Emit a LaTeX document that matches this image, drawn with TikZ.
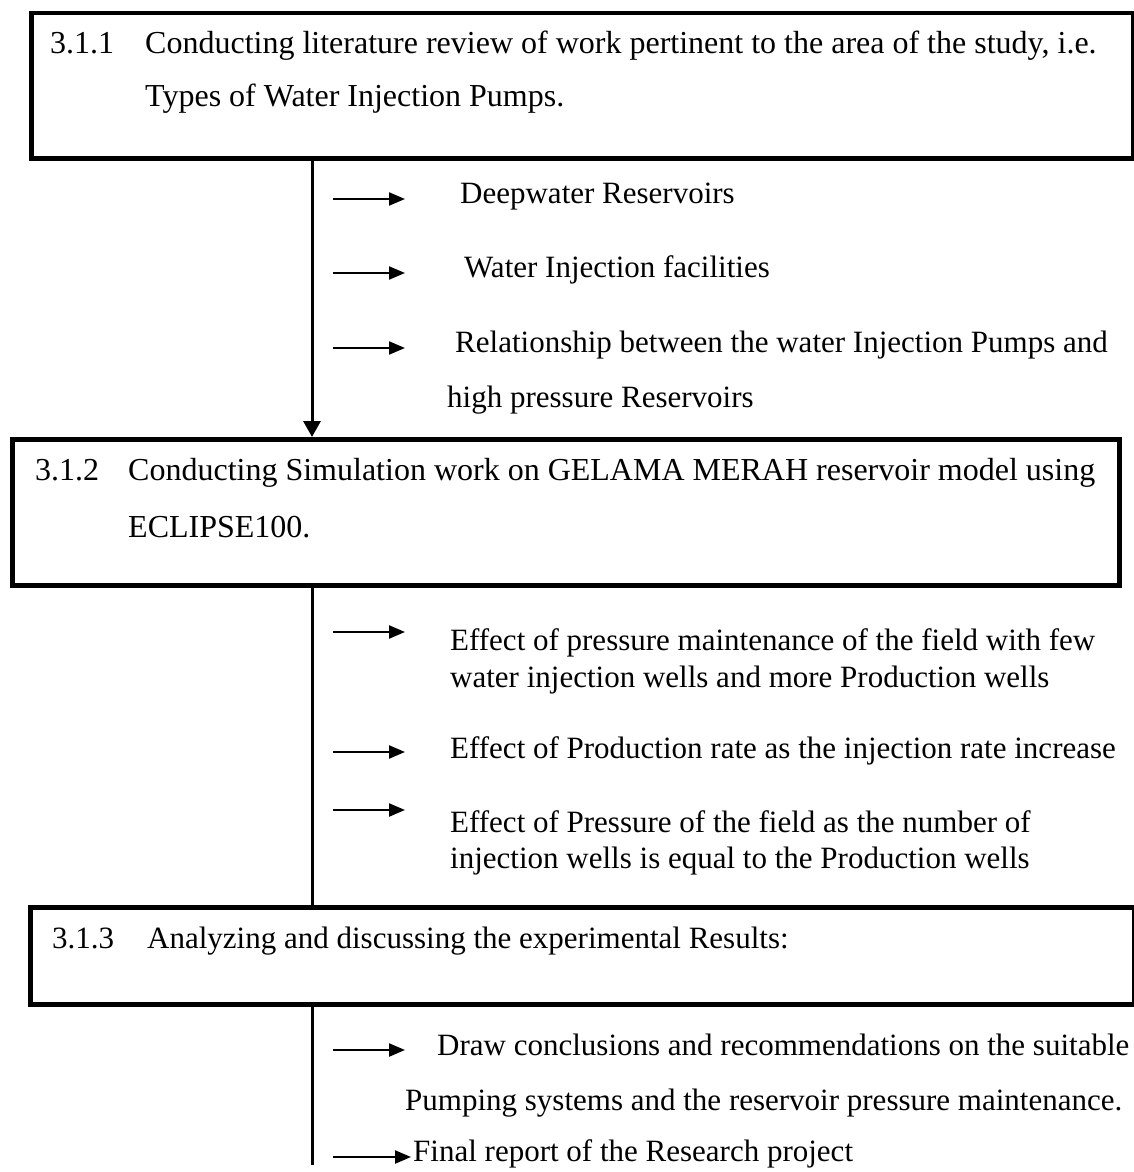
\documentclass[tikz,border=0pt]{standalone}
\usepackage{fontspec}
\setmainfont{Liberation Serif}
\usetikzlibrary{arrows.meta}
\begin{document}
\begin{tikzpicture}[x=1pt,y=-1pt,
  box/.style={draw, line width=4.5pt, anchor=north west, inner sep=0pt},
  txt/.style={anchor=base west, inner sep=0pt, font=\fontsize{31}{37}\selectfont},
  btxt/.style={anchor=base west, inner sep=0pt, font=\fontsize{32}{38}\selectfont},
  trunk/.style={line width=3pt},
  sub/.style={line width=2.2pt, -{Triangle[length=16pt,width=13pt]}},
  trunkarrow/.style={line width=3pt, -{Triangle[length=16pt,width=17pt]}}]
\fill[white] (0,0) rectangle (1134,1172);
\useasboundingbox (0,0) rectangle (1134,1172);

% boxes
\node[box, minimum width=1102pt, minimum height=145pt] (b1) at (29,11) {};
\node[box, minimum width=1107pt, minimum height=146pt] (b2) at (10,437) {};
\node[box, minimum width=1104pt, minimum height=97pt] (b3) at (28,905) {};

% box texts
\node[btxt] (n1) at (50,53) {3.1.1};
\node[btxt] (t1a) at (145,53) {Conducting literature review of work pertinent to the area of the study, i.e.};
\node[btxt] (t1b) at (145,106) {Types of Water Injection Pumps.};
\node[btxt] (n2) at (35,480) {3.1.2};
\node[btxt] (t2a) at (128,480) {Conducting Simulation work on GELAMA MERAH reservoir model using};
\node[btxt] (t2b) at (128,537) {ECLIPSE100.};
\node[txt] (n3) at (52,948) {3.1.3};
\node[txt] (t3a) at (147,948) {Analyzing and discussing the experimental Results:};

% trunk
\coordinate (tx) at (312,0);
\coordinate (bot) at (312,1165);
\draw[trunkarrow] (b1.south -| tx) -- (b2.north -| tx);
\draw[trunk] (b2.south -| tx) -- (b3.north -| tx);
\draw[trunk] (b3.south -| tx) -- (bot);

% sub items group 1
\coordinate (a1s) at (333,199); \coordinate (a1e) at (405,199);
\coordinate (a2s) at (333,273); \coordinate (a2e) at (405,273);
\coordinate (a3s) at (333,348); \coordinate (a3e) at (405,348);
\draw[sub] (a1s) -- (a1e);
\draw[sub] (a2s) -- (a2e);
\draw[sub] (a3s) -- (a3e);
\node[txt] (s1) at (460,203) {Deepwater Reservoirs};
\node[txt] (s2) at (464,277) {Water Injection facilities};
\node[txt] (s3a) at (455,352) {Relationship between the water Injection Pumps and};
\node[txt] (s3b) at (447,407) {high pressure Reservoirs};

% sub items group 2
\coordinate (a4s) at (333,632); \coordinate (a4e) at (405,632);
\coordinate (a5s) at (333,752); \coordinate (a5e) at (405,752);
\coordinate (a6s) at (333,810); \coordinate (a6e) at (405,810);
\draw[sub] (a4s) -- (a4e);
\draw[sub] (a5s) -- (a5e);
\draw[sub] (a6s) -- (a6e);
\node[txt] (s4a) at (450,650) {Effect of pressure maintenance of the field with few};
\node[txt] (s4b) at (450,687) {water injection wells and more Production wells};
\node[txt] (s5) at (450,758) {Effect of Production rate as the injection rate increase};
\node[txt] (s6a) at (450,832) {Effect of Pressure of the field as the number of};
\node[txt] (s6b) at (450,868) {injection wells is equal to the Production wells};

% sub items group 3
\coordinate (a7s) at (333,1050); \coordinate (a7e) at (405,1050);
\coordinate (a8s) at (333,1157); \coordinate (a8e) at (411,1157);
\draw[sub] (a7s) -- (a7e);
\draw[sub] (a8s) -- (a8e);
\node[txt] (s7a) at (437,1055) {Draw conclusions and recommendations on the suitable};
\node[txt] (s7b) at (405,1110) {Pumping systems and the reservoir pressure maintenance.};
\node[txt] (s8) at (413,1161) {Final report of the Research project};
\end{tikzpicture}
\end{document}
